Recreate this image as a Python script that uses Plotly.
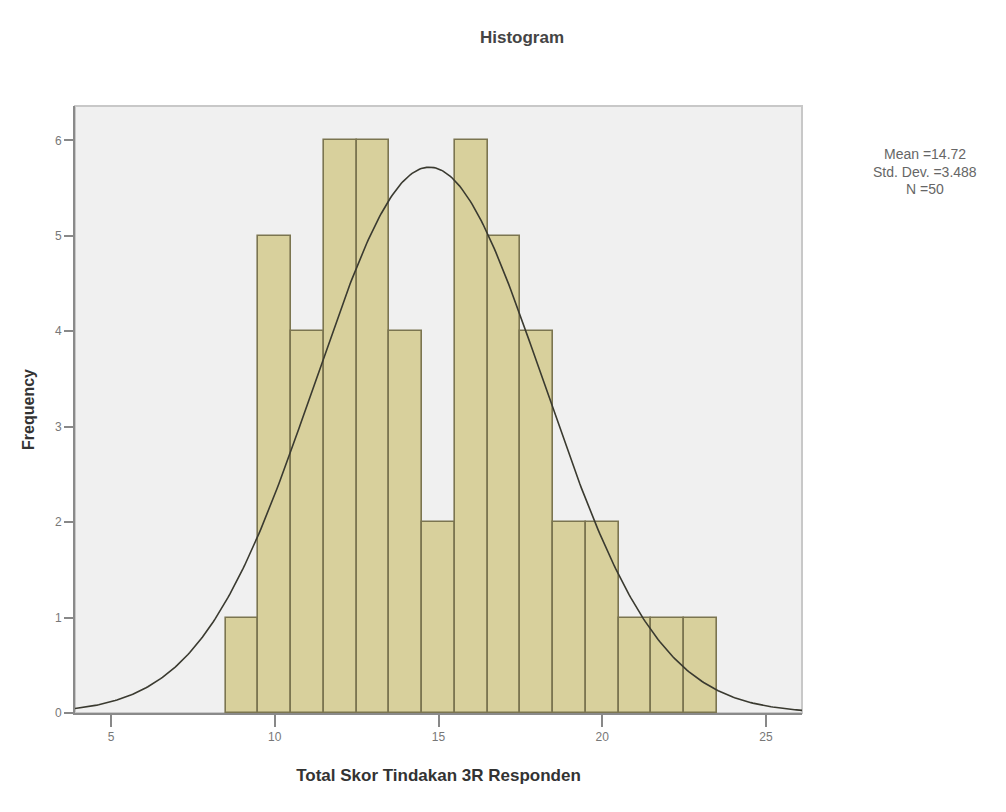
import numpy as np
import plotly.graph_objects as go

# Data (bin centres, frequencies)
scores = [9, 10, 11, 12, 13, 14, 15, 16, 17, 18, 19, 20, 21, 22, 23]
frequency = [1, 5, 4, 6, 6, 4, 2, 6, 5, 4, 2, 2, 1, 1, 1]
x_ticks = [5, 10, 15, 20, 25]
y_ticks = [0, 1, 2, 3, 4, 5, 6]
mean_val = 14.72
sd_val = 3.488
n_val = 50
bin_width = 1

W, H = 1006, 812
OFF = 8  # page body margin
L, R, T, B = 75 - OFF, 204 + OFF, 106 - OFF, 99 + OFF
xr = [3.9, 26.1]
yr = [0, 6.36]

font = "Liberation Sans, Arial, sans-serif"

fig = go.Figure()
fig.add_trace(go.Bar(
    x=scores, y=frequency, width=bin_width,
    marker=dict(color="#d8d09c", line=dict(color="#7b7550", width=1.6)),
    hoverinfo="x+y", showlegend=False,
))

xc = np.linspace(xr[0], xr[1], 400)
yc = n_val * bin_width / (sd_val * np.sqrt(2 * np.pi)) * np.exp(-0.5 * ((xc - mean_val) / sd_val) ** 2)
fig.add_trace(go.Scatter(x=xc, y=yc, mode="lines",
                         line=dict(color="#3a3a30", width=1.6),
                         showlegend=False, hoverinfo="skip"))

fig.update_layout(
    width=W, height=H,
    margin=dict(l=L, r=R, t=T, b=B),
    paper_bgcolor="white", plot_bgcolor="#f0f0f0",
    bargap=0,
    font=dict(family=font, color="#333333"),
    title=dict(text="<b>Histogram</b>", x=(522 - OFF) / W, xref="container",
               y=1 - (37 - OFF) / H, yref="container", xanchor="center", yanchor="middle",
               font=dict(size=17, color="#444444", family=font)),
    xaxis=dict(range=xr, tickvals=x_ticks, ticks="outside", ticklen=12,
               tickcolor="#888888", tickwidth=1.5, showgrid=False, zeroline=False,
               showline=True, linecolor="#8a8a8a", linewidth=2,
               tickfont=dict(size=12, color="#777777"),
               title=dict(text="<b>Total Skor Tindakan 3R Responden</b>",
                          font=dict(size=17, color="#333333"), standoff=26)),
    yaxis=dict(range=yr, tickvals=y_ticks, ticks="outside", ticklen=9,
               tickcolor="#888888", tickwidth=1.5, showgrid=False, zeroline=False,
               showline=True, linecolor="#8a8a8a", linewidth=2,
               tickfont=dict(size=12, color="#777777"),
               title=dict(text="<b>Frequency</b>",
                          font=dict(size=16, color="#333333"), standoff=16)),
)

# light frame on top and right of plot area
fig.add_shape(type="rect", xref="paper", yref="paper", x0=0, x1=1, y0=0, y1=1,
              line=dict(color="#c8c8c8", width=2), layer="below")

legend_lines = [f"Mean ={mean_val}", f"Std. Dev. ={sd_val}", f"N ={n_val}"]
pw = W - L - R
ph = H - T - B
for i, txt in enumerate(legend_lines):
    ypx = 154 + 17.5 * i - OFF
    fig.add_annotation(text=txt, xref="paper", yref="paper",
                       x=(925 - OFF - L) / pw, y=(H - B - ypx) / ph,
                       showarrow=False, xanchor="center", yanchor="middle",
                       font=dict(size=14, color="#666666", family=font))

fig.write_html("out.html")
